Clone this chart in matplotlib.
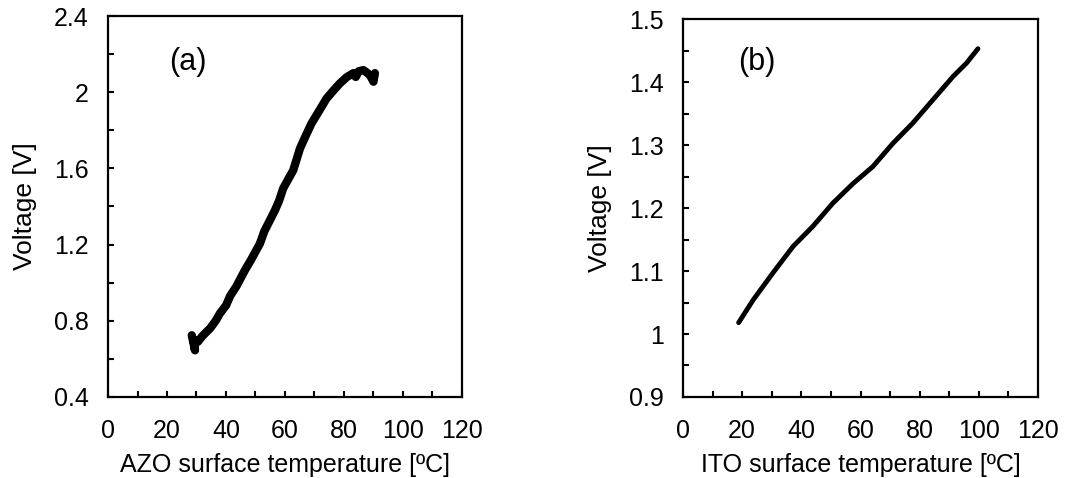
import numpy as np
import matplotlib
matplotlib.use("Agg")
import matplotlib.pyplot as plt
from matplotlib.ticker import MultipleLocator, FormatStrFormatter

plt.rcParams['font.family'] = ['Liberation Sans', 'DejaVu Sans']

# (a) AZO: 판독값
azo_t = [28.4, 29.5, 29.0, 30.5, 32.0, 34.6, 36.5, 38.0, 40.0, 41.4, 43.5, 46.4, 48.5,
         51.5, 53.0, 56.6, 58.0, 59.4, 61.0, 62.8, 64.0, 65.1, 67.0, 69.0, 71.5,
         74.1, 76.5, 78.6, 81.0, 83.2, 84.0, 85.0, 86.6, 88.0, 88.8, 89.5, 90.0, 90.5]
azo_v = [0.724, 0.645, 0.70, 0.69, 0.72, 0.76, 0.80, 0.84, 0.88, 0.93, 0.98, 1.065, 1.12,
         1.205, 1.27, 1.38, 1.43, 1.495, 1.54, 1.59, 1.65, 1.705, 1.77, 1.836, 1.90,
         1.967, 2.01, 2.046, 2.08, 2.10, 2.08, 2.11, 2.116, 2.10, 2.09, 2.07, 2.055, 2.10]

# (b) ITO
ito_t = [18.8, 23.7, 30.4, 37.2, 43.9, 50.7, 57.5, 64.2, 71.0, 77.7, 84.5, 91.3, 95.8, 99.7]
ito_v = [1.018, 1.054, 1.097, 1.139, 1.171, 1.208, 1.239, 1.266, 1.303, 1.335, 1.372, 1.409, 1.430, 1.453]

fig = plt.figure(figsize=(10.79, 4.78), dpi=100)
ax1 = fig.add_axes([0.1001, 0.1695, 0.328, 0.797])
ax2 = fig.add_axes([0.633, 0.1695, 0.329, 0.7905])


def style(ax, ylim, ymaj, ymin, xlabel):
    ax.set_xlim(0, 120)
    ax.set_ylim(*ylim)
    ax.xaxis.set_major_locator(MultipleLocator(20))
    ax.xaxis.set_minor_locator(MultipleLocator(10))
    ax.yaxis.set_major_locator(MultipleLocator(ymaj))
    ax.yaxis.set_minor_locator(MultipleLocator(ymin))
    ax.xaxis.set_major_formatter(FormatStrFormatter("%g"))
    ax.yaxis.set_major_formatter(FormatStrFormatter("%g"))
    ax.tick_params(which="both", direction="in", length=4, width=1.5,
                   labelsize=18, top=False, right=False)
    ax.tick_params(axis="x", pad=16)
    ax.tick_params(axis="y", pad=14)
    for s in ax.spines.values():
        s.set_linewidth(1.6)
    ax.set_xlabel(xlabel, fontsize=18, labelpad=7)
    ax.set_ylabel("Voltage [V]", fontsize=19, labelpad=12)


ax1.plot(azo_t, azo_v, color="black", lw=6, solid_capstyle="round", solid_joinstyle="round")
style(ax1, (0.4, 2.4), 0.4, 0.2, "AZO surface temperature [ºC]")
ax1.text(27.2, 2.16, "(a)", fontsize=22, ha="center", va="center")

ax2.plot(ito_t, ito_v, color="black", lw=3.5, solid_capstyle="round")
style(ax2, (0.9, 1.5), 0.1, 0.05, "ITO surface temperature [ºC]")
ax2.text(24.8, 1.432, "(b)", fontsize=22, ha="center", va="center")

fig.savefig("out.png", dpi=100)
